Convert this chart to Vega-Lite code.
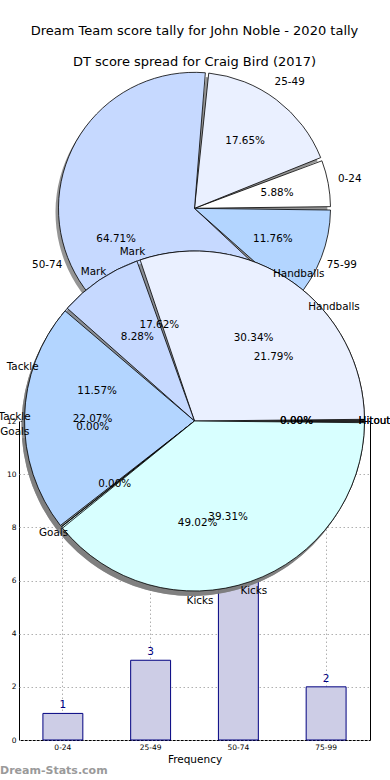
{
  "$schema": "https://vega.github.io/schema/vega-lite/v6.json",
  "width": 351,
  "height": 319,
  "autosize": {"type": "none"},
  "padding": {"left": 19, "top": 421, "right": 20, "bottom": 40},
  "background": "white",
  "title": {
    "text": ["Dream Team score tally for John Noble - 2020 tally", "DT score spread for Craig Bird (2017)"],
    "fontSize": 13,
    "fontWeight": "normal",
    "font": "DejaVu Sans",
    "color": "black",
    "lineHeight": 31,
    "frame": "group",
    "anchor": "middle",
    "offset": 2
  },
  "datasets": {
    "ranges": [
      {"range": "0-24", "i": 0, "count": 1, "share": 0.0588},
      {"range": "25-49", "i": 1, "count": 3, "share": 0.1765},
      {"range": "50-74", "i": 2, "count": 11, "share": 0.6471},
      {"range": "75-99", "i": 3, "count": 2, "share": 0.1176}
    ],
    "spreadTop": [
      {"stat": "Hitout", "i": 0, "p": 0},
      {"stat": "Handballs", "i": 1, "p": 0.3034},
      {"stat": "Mark", "i": 2, "p": 0.0828},
      {"stat": "Tackle", "i": 3, "p": 0.2207},
      {"stat": "Goals", "i": 4, "p": 0},
      {"stat": "Kicks", "i": 5, "p": 0.3931}
    ],
    "spreadUnder": [
      {"stat": "Hitout", "i": 0, "p": 0},
      {"stat": "Handballs", "i": 1, "p": 0.2179},
      {"stat": "Mark", "i": 2, "p": 0.1762},
      {"stat": "Tackle", "i": 3, "p": 0.1157},
      {"stat": "Goals", "i": 4, "p": 0},
      {"stat": "Kicks", "i": 5, "p": 0.4902}
    ],
    "site": [{"name": "Dream-Stats.com"}]
  },
  "config": {
    "font": "DejaVu Sans",
    "view": {"stroke": "black", "strokeWidth": 1},
    "axis": {
      "domain": false,
      "ticks": false,
      "labelFont": "DejaVu Sans",
      "labelColor": "black",
      "labelFontSize": 7.5,
      "labelPadding": 3,
      "grid": true,
      "gridColor": "#b0b0b0",
      "gridDash": [1.5, 2.5],
      "gridWidth": 1
    },
    "text": {"font": "DejaVu Sans", "fontSize": 10.4, "color": "black"}
  },
  "resolve": {"scale": {"theta": "independent", "color": "independent"}},
  "layer": [
    {
      "data": {"name": "ranges"},
      "encoding": {
        "x": {
          "field": "range",
          "type": "nominal",
          "sort": null,
          "scale": {"paddingInner": 0.545, "paddingOuter": 0.2725},
          "axis": {"labelAngle": 0, "bandPosition": 0.5, "title": "Frequency", "titleFontSize": 10.5, "titleFontWeight": "normal", "titleColor": "black", "titlePadding": 4}
        },
        "y": {
          "field": "count",
          "type": "quantitative",
          "scale": {"domain": [0, 12], "nice": false},
          "axis": {"values": [0, 2, 4, 6, 8, 10, 12], "title": null}
        }
      },
      "layer": [
        {"mark": {"type": "bar", "fill": "#cdcde6", "stroke": "#000080", "strokeWidth": 1}},
        {"mark": {"type": "text", "color": "#000080", "dy": -8, "fontSize": 10.5}, "encoding": {"text": {"field": "count", "type": "quantitative"}}}
      ]
    },
    {
      "data": {"name": "ranges"},
      "encoding": {
        "theta": {"field": "count", "type": "quantitative", "stack": true, "scale": {"range": [1.5708, -4.7124]}},
        "order": {"field": "i", "type": "quantitative"},
        "y": {"datum": 20.0, "type": "quantitative", "scale": {"domain": [0, 12], "nice": false}, "axis": {"values": [0, 2, 4, 6, 8, 10, 12], "title": null}}
      },
      "layer": [
        {"mark": {"type": "arc", "outerRadius": 136, "padAngle": 0.025, "fill": "#7a7a7a", "opacity": 0.8, "xOffset": -3, "yOffset": 4}},
        {
          "mark": {"type": "arc", "outerRadius": 136, "padAngle": 0.025, "stroke": "black", "strokeWidth": 0.8},
          "encoding": {
            "color": {"field": "range", "type": "nominal", "scale": {"domain": ["0-24", "25-49", "50-74", "75-99"], "range": ["#ffffff", "#eaf0ff", "#c6d9ff", "#b3d5ff"]}, "legend": null}
          }
        },
        {"mark": {"type": "text", "radius": 158}, "encoding": {"text": {"field": "range", "type": "nominal"}}},
        {"mark": {"type": "text", "radius": 84}, "encoding": {"text": {"field": "share", "type": "quantitative", "format": ".2%"}}}
      ]
    },
    {
      "data": {"name": "spreadUnder"},
      "encoding": {
        "theta": {"field": "p", "type": "quantitative", "stack": true, "scale": {"range": [1.5708, -4.7124]}},
        "order": {"field": "i", "type": "quantitative"},
        "y": {"datum": 12, "type": "quantitative", "scale": {"domain": [0, 12], "nice": false}, "axis": {"values": [0, 2, 4, 6, 8, 10, 12], "title": null}}
      },
      "layer": [
        {"mark": {"type": "arc", "outerRadius": 170, "padAngle": 0.02, "fill": "#7a7a7a", "opacity": 0.8, "xOffset": -3, "yOffset": 5}},
        {
          "mark": {"type": "arc", "outerRadius": 170, "padAngle": 0.02, "stroke": "black", "strokeWidth": 0.8},
          "encoding": {
            "color": {"field": "stat", "type": "nominal", "scale": {"domain": ["Hitout", "Handballs", "Mark", "Tackle", "Goals", "Kicks"], "range": ["#ffffff", "#eaf0ff", "#c6d9ff", "#b3d5ff", "#ffffff", "#d8ffff"]}, "legend": null}
          }
        }
      ]
    },
    {
      "data": {"name": "spreadTop"},
      "encoding": {
        "theta": {"field": "p", "type": "quantitative", "stack": true, "scale": {"range": [1.5708, -4.7124]}},
        "order": {"field": "i", "type": "quantitative"},
        "y": {"datum": 12, "type": "quantitative", "scale": {"domain": [0, 12], "nice": false}, "axis": {"values": [0, 2, 4, 6, 8, 10, 12], "title": null}}
      },
      "layer": [
        {"mark": {"type": "arc", "outerRadius": 170, "padAngle": 0.02, "fill": "#7a7a7a", "opacity": 0.8, "xOffset": -3, "yOffset": 5}},
        {
          "mark": {"type": "arc", "outerRadius": 170, "padAngle": 0.02, "stroke": "black", "strokeWidth": 0.8},
          "encoding": {
            "color": {"field": "stat", "type": "nominal", "scale": {"domain": ["Hitout", "Handballs", "Mark", "Tackle", "Goals", "Kicks"], "range": ["#ffffff", "#eaf0ff", "#c6d9ff", "#b3d5ff", "#ffffff", "#d8ffff"]}, "legend": null}
          }
        },
        {"mark": {"type": "text", "radius": 180}, "encoding": {"text": {"field": "stat", "type": "nominal"}}},
        {"mark": {"type": "text", "radius": 102}, "encoding": {"text": {"field": "p", "type": "quantitative", "format": ".2%"}}}
      ]
    },
    {
      "data": {"name": "spreadUnder"},
      "encoding": {
        "theta": {"field": "p", "type": "quantitative", "stack": true, "scale": {"range": [1.5708, -4.7124]}},
        "order": {"field": "i", "type": "quantitative"},
        "y": {"datum": 12, "type": "quantitative", "scale": {"domain": [0, 12], "nice": false}, "axis": {"values": [0, 2, 4, 6, 8, 10, 12], "title": null}}
      },
      "layer": [
        {"mark": {"type": "text", "radius": 180}, "encoding": {"text": {"field": "stat", "type": "nominal"}}},
        {"mark": {"type": "text", "radius": 102}, "encoding": {"text": {"field": "p", "type": "quantitative", "format": ".2%"}}}
      ]
    },
    {
      "data": {"name": "site"},
      "mark": {"type": "text", "align": "left", "baseline": "middle", "fontWeight": "bold", "fontSize": 11, "color": "#9a9a9a"},
      "encoding": {
        "text": {"field": "name", "type": "nominal"},
        "x": {"value": -19},
        "y": {"datum": -1.17, "type": "quantitative", "scale": {"domain": [0, 12], "nice": false}, "axis": {"values": [0, 2, 4, 6, 8, 10, 12], "title": null}}
      }
    }
  ]
}
